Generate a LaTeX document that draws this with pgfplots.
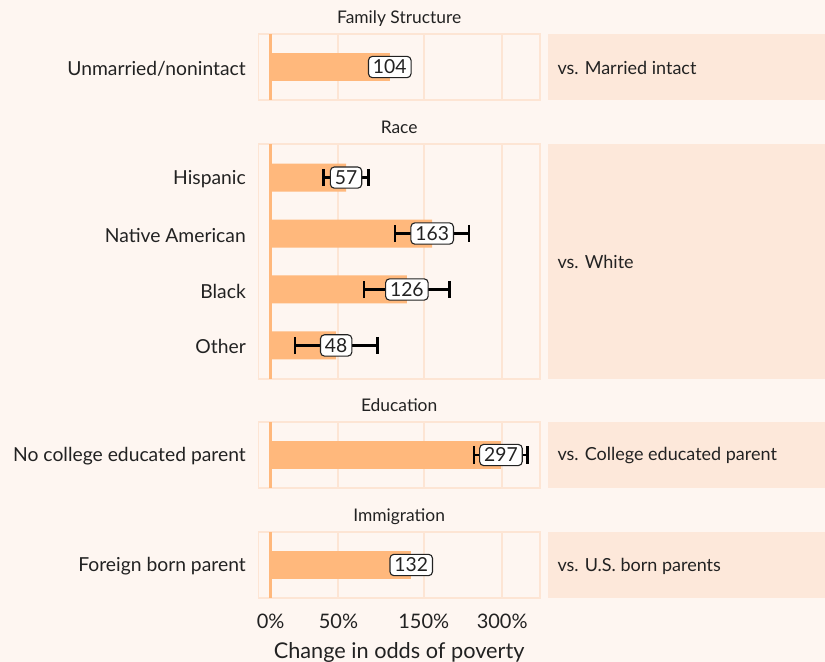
\documentclass[border=0pt]{standalone}
\usepackage{pgfplots}
\pgfplotsset{compat=1.18}
\usepackage{pgfplotstable}
\usepackage{fontspec}
\setmainfont{Lato}
\definecolor{bg}{HTML}{FEF6F1}
\definecolor{border}{HTML}{FDE5D4}
\definecolor{strip}{HTML}{FDE8DA}
\definecolor{barcol}{HTML}{FFB87C}
\definecolor{txt}{HTML}{222222}

% v = ln(1 + change/100), e = half width of the confidence interval (log scale)
\pgfplotstableread{
y v e lab
1 0.71295 0 104
}\famtab
\pgfplotstableread{
y v e lab
1 0.45108 0.134 57
2 0.96698 0.221 163
3 0.81536 0.255 126
4 0.39204 0.248 48
}\racetab
\pgfplotstableread{
y v e lab
1 1.37877 0.160 297
}\edutab
\pgfplotstableread{
y v e lab
1 0.84157 0 132
}\immtab

\pgfplotsset{
 panel/.style={
  scale only axis, width=281.7bp, anchor=north west,
  xmin=-0.0743, xmax=1.6126, ymin=0.4, y dir=reverse,
  axis background/.style={fill=bg},
  axis line style={draw=border, line width=1.5bp},
  xtick={0,0.405465,0.916291,1.386294}, xticklabels={},
  xmajorgrids, grid style={draw=border, line width=2bp},
  major tick length=0pt,
  ytick={1,2,3,4},
  yticklabel style={font=\fontsize{19.3bp}{23bp}\selectfont, text=txt, xshift=-9bp, yshift=-1.5bp},
  every axis title shift=0pt,
  title style={font=\fontsize{17.4bp}{20bp}\selectfont, text=txt, at={(0.5,1)}, anchor=base, yshift=11bp},
  /pgf/number format/assume math mode=true,
 },
 zeroline/.style={barcol, line width=3bp, forget plot},
 bars/.style={xbar, bar width=0.5, fill=barcol, draw=none, forget plot},
 errs/.style={draw=none, forget plot, error bars/.cd, x dir=both, x explicit,
   error mark=|,
   error bar style={draw=black, solid, line width=2.4bp},
   error mark options={draw=black, solid, line width=2.4bp, mark size=8.6bp}},
 labs/.style={draw=none, forget plot, nodes near coords, point meta=explicit symbolic,
   every node near coord/.append style={anchor=center, fill=white, draw=txt, line width=1.1bp,
   rounded corners=4bp, inner xsep=4.5bp, inner ysep=3.6bp, text=txt, font=\fontsize{19.3bp}{22bp}\selectfont}},
}

\begin{document}
\begin{tikzpicture}
\useasboundingbox (0,0) rectangle (825bp,-662bp);
\fill[bg] (0,0) rectangle (825bp,-662bp);

% right-hand strips
\fill[strip] (548bp,-34bp) rectangle (825bp,-100bp);
\fill[strip] (548bp,-144bp) rectangle (825bp,-379bp);
\fill[strip] (548bp,-422bp) rectangle (825bp,-488bp);
\fill[strip] (548bp,-532bp) rectangle (825bp,-598bp);
\begin{scope}[every node/.style={anchor=west, text=txt, font=\fontsize{18bp}{21bp}\selectfont}]
\node at (554bp,-68bp) {vs. Married intact};
\node at (554bp,-262bp) {vs. White};
\node at (554bp,-456bp) {vs. College educated parent};
\node at (554bp,-566bp) {vs. U.S. born parents};
\end{scope}

% Family structure
\begin{axis}[panel, at={(258.3bp,-34bp)}, height=66bp, ymax=1.6,
  title={Family Structure}, yticklabels={Unmarried/nonintact}]
\addplot[zeroline] coordinates {(0,0.4) (0,1.6)};
\addplot[bars] table[x=v,y=y]{\famtab};
\addplot[labs] table[x=v,y=y,meta=lab]{\famtab};
\end{axis}

% Race
\begin{axis}[panel, at={(258.3bp,-144bp)}, height=235bp, ymax=4.6,
  title={Race}, yticklabels={Hispanic,Native American,Black,Other}]
\addplot[zeroline] coordinates {(0,0.4) (0,4.6)};
\addplot[bars] table[x=v,y=y]{\racetab};
\addplot[errs] table[x=v,y=y,x error=e]{\racetab};
\addplot[labs] table[x=v,y=y,meta=lab]{\racetab};
\end{axis}

% Education
\begin{axis}[panel, at={(258.3bp,-422bp)}, height=66bp, ymax=1.6,
  title={Education}, yticklabels={No college educated parent}]
\addplot[zeroline] coordinates {(0,0.4) (0,1.6)};
\addplot[bars] table[x=v,y=y]{\edutab};
\addplot[errs] table[x=v,y=y,x error=e]{\edutab};
\addplot[labs] table[x=v,y=y,meta=lab]{\edutab};
\end{axis}

% Immigration
\begin{axis}[panel, at={(258.3bp,-532bp)}, height=66bp, ymax=1.6,
  title={Immigration}, yticklabels={Foreign born parent},
  xticklabels={0\%,50\%,150\%,300\%},
  xticklabel style={font=\fontsize{20bp}{24bp}\selectfont, text=txt, anchor=base, yshift=-30bp},
  xlabel={Change in odds of poverty},
  xlabel style={font=\fontsize{21.7bp}{26bp}\selectfont, text=txt, at={(axis description cs:0.5,0)}, anchor=base, yshift=-60bp}]
\addplot[zeroline] coordinates {(0,0.4) (0,1.6)};
\addplot[bars] table[x=v,y=y]{\immtab};
\addplot[labs] table[x=v,y=y,meta=lab]{\immtab};
\end{axis}
\end{tikzpicture}
\end{document}
